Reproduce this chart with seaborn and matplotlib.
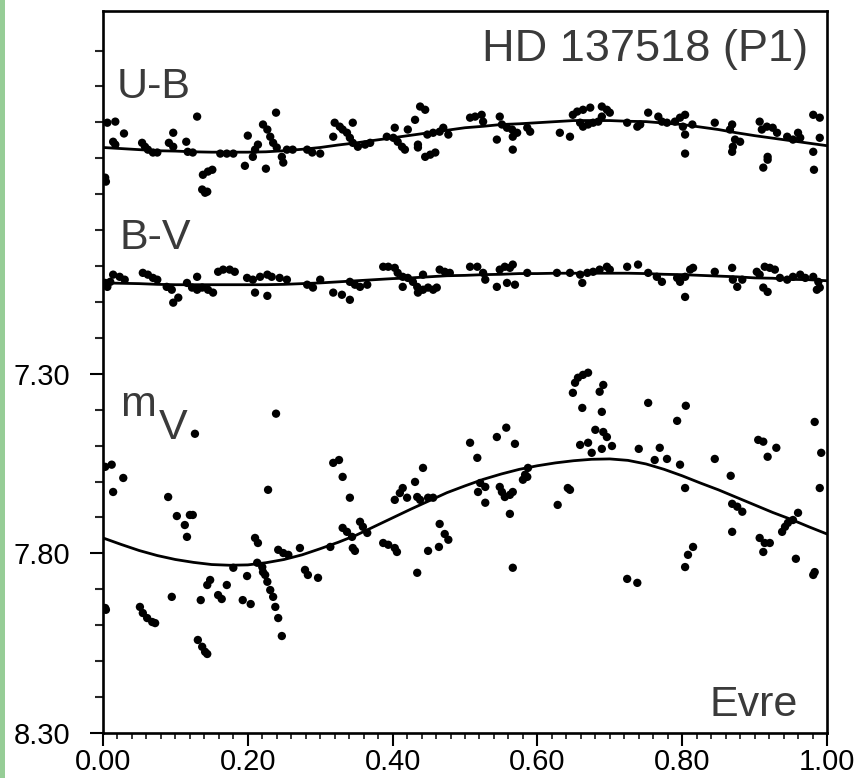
import numpy as np
import pandas as pd
import matplotlib
matplotlib.use("Agg")
import matplotlib.pyplot as plt
import seaborn as sns
from matplotlib.ticker import FixedLocator, MultipleLocator
from matplotlib.patches import Rectangle

# ---------------- data (phase, plotted magnitude) ----------------
ub_phase = [0.006,0.017,0.014,0.017,0.029,0.054,0.058,0.062,0.069,0.075,0.097,0.091,0.097,0.115,0.130,0.117,0.124,0.138,0.145,0.151,0.137,0.141,0.144,0.162,0.171,0.180,0.200,0.196,0.207,0.210,0.214,0.221,0.227,0.231,0.235,0.240,0.247,0.249,0.239,0.225,0.254,0.262,0.003,0.004,
            0.282,0.289,0.300,0.318,0.320,0.327,0.331,0.337,0.341,0.345,0.352,0.362,0.345,0.369,0.392,0.401,0.407,0.413,0.417,0.403,0.421,0.431,0.438,0.445,0.435,0.435,0.445,0.452,0.459,0.448,0.456,0.465,0.470,0.477,0.507,0.514,0.523,0.525,0.544,0.548,0.551,0.558,0.565,0.566,0.572,0.566,0.586,0.590,
            0.631,0.645,0.649,0.655,0.663,0.673,0.659,0.663,0.670,0.677,0.684,0.689,0.689,0.696,0.700,0.724,0.738,0.742,0.753,0.767,0.772,0.779,0.790,0.797,0.804,0.801,0.804,0.804,0.814,0.845,0.869,0.866,0.873,0.870,0.869,0.880,0.907,0.910,0.917,0.925,0.931,0.912,0.918,0.918,0.945,0.953,0.960,0.963,0.981,0.990,0.981,0.982,0.990]
ub_mag = [6.601,6.598,6.654,6.662,6.631,6.657,6.668,6.676,6.684,6.684,6.629,6.657,6.668,6.654,6.584,6.682,6.684,6.746,6.737,6.732,6.787,6.796,6.793,6.687,6.687,6.687,6.637,6.721,6.696,6.676,6.662,6.606,6.620,6.640,6.657,6.670,6.696,6.712,6.573,6.729,6.676,6.676,6.754,6.765,
          6.676,6.684,6.687,6.640,6.601,6.612,6.620,6.629,6.643,6.657,6.668,6.662,6.601,6.657,6.640,6.643,6.654,6.668,6.676,6.615,6.620,6.593,6.556,6.565,6.662,6.670,6.696,6.690,6.684,6.634,6.629,6.626,6.615,6.634,6.587,6.584,6.579,6.598,6.648,6.584,6.606,6.615,6.620,6.640,6.629,6.676,6.615,6.626,
          6.629,6.640,6.579,6.570,6.565,6.559,6.601,6.612,6.606,6.601,6.598,6.584,6.556,6.565,6.573,6.601,6.612,6.606,6.573,6.584,6.598,6.601,6.598,6.587,6.579,6.612,6.634,6.687,6.606,6.601,6.606,6.620,6.648,6.668,6.682,6.654,6.598,6.620,6.612,6.615,6.629,6.726,6.704,6.696,6.640,6.648,6.629,6.643,6.579,6.587,6.682,6.732,6.643]

bv_phase = [0.003,0.006,0.010,0.014,0.023,0.030,0.055,0.062,0.069,0.075,0.088,0.095,0.097,0.104,0.116,0.123,0.130,0.137,0.145,0.152,0.130,0.159,0.166,0.175,0.182,0.199,0.207,0.217,0.227,0.233,0.244,0.254,0.210,0.227,
            0.282,0.290,0.300,0.318,0.330,0.341,0.348,0.355,0.365,0.341,0.387,0.394,0.403,0.407,0.414,0.421,0.428,0.434,0.435,0.442,0.449,0.456,0.461,0.414,0.442,0.465,0.472,0.479,0.507,0.517,0.525,0.528,0.544,0.558,0.569,0.548,0.555,0.562,0.566,0.586,0.627,
            0.645,0.659,0.662,0.669,0.677,0.686,0.696,0.700,0.724,0.739,0.753,0.765,0.772,0.793,0.797,0.804,0.811,0.815,0.804,0.845,0.869,0.870,0.876,0.883,0.903,0.907,0.914,0.921,0.928,0.935,0.945,0.953,0.963,0.970,0.981,0.988,0.912,0.918,0.986,0.990]
bv_mag = [7.047,7.058,7.044,7.024,7.030,7.038,7.019,7.024,7.033,7.038,7.058,7.066,7.102,7.088,7.047,7.060,7.066,7.060,7.066,7.074,7.030,7.016,7.010,7.010,7.016,7.033,7.038,7.030,7.024,7.030,7.033,7.038,7.074,7.083,
          7.052,7.060,7.038,7.074,7.080,7.044,7.052,7.058,7.052,7.094,7.002,7.002,7.005,7.019,7.030,7.033,7.044,7.058,7.074,7.066,7.060,7.066,7.060,7.058,7.024,7.010,7.016,7.019,7.002,7.002,7.019,7.038,7.058,7.047,7.052,7.010,7.002,7.005,6.996,7.019,7.019,
          7.019,7.024,7.047,7.019,7.016,7.010,7.002,7.010,7.002,6.996,7.019,7.030,7.044,7.033,7.044,7.030,7.010,7.005,7.086,7.016,7.005,7.038,7.058,7.038,7.016,7.024,7.002,7.005,7.010,7.033,7.038,7.030,7.024,7.033,7.030,7.044,7.060,7.072,7.066,7.060]

mv_phase = [0.003,0.012,0.028,0.014,0.090,0.127,0.239,0.228,
            0.102,0.113,0.116,0.120,0.124,0.210,0.214,0.242,0.249,0.256,0.180,0.199,0.213,0.220,0.221,0.224,0.227,0.231,0.235,0.238,0.242,0.247,
            0.003,0.004,0.051,0.055,0.061,0.068,0.072,0.095,0.131,0.137,0.141,0.144,0.135,0.144,0.148,0.159,0.164,0.171,0.193,0.204,
            0.318,0.326,0.331,0.341,0.442,0.431,0.507,0.517,0.544,0.557,0.569,0.403,0.410,0.414,0.420,0.434,0.438,0.449,0.456,0.521,0.528,0.518,0.528,0.548,0.551,0.555,0.562,0.566,0.586,0.580,0.642,0.628,
            0.272,0.279,0.283,0.297,0.314,0.331,0.337,0.344,0.345,0.348,0.355,0.359,0.365,0.387,0.394,0.403,0.406,0.434,0.449,0.465,0.472,0.477,0.464,0.562,0.566,0.583,0.587,
            0.869,0.876,0.883,0.869,0.907,0.914,0.921,0.912,0.938,0.942,0.946,0.953,0.960,0.957,0.981,0.983,0.804,0.808,0.815,0.724,0.738,
            0.649,0.652,0.656,0.663,0.670,0.686,0.691,0.662,0.689,0.680,0.691,0.696,0.659,0.670,0.675,0.689,0.703,0.645,0.740,0.753,0.769,0.762,0.779,0.793,0.805,0.797,0.804,0.845,0.867,0.905,0.912,0.918,0.930,0.983,0.992,0.990]
mv_mag = [7.559,7.553,7.590,7.629,7.643,7.467,7.411,7.623,
          7.696,7.721,7.754,7.693,7.693,7.757,7.771,7.790,7.799,7.804,7.840,7.863,7.826,7.838,7.852,7.860,7.879,7.902,7.921,7.949,7.980,8.030,
          7.952,7.957,7.949,7.966,7.980,7.991,7.994,7.921,8.041,8.060,8.074,8.080,7.930,7.888,7.874,7.916,7.927,7.888,7.930,7.941,
          7.548,7.540,7.587,7.645,7.562,7.601,7.492,7.534,7.476,7.450,7.495,7.651,7.632,7.618,7.645,7.643,7.651,7.645,7.645,7.604,7.615,7.629,7.659,7.615,7.629,7.643,7.637,7.629,7.587,7.595,7.618,7.665,
          7.785,7.846,7.860,7.868,7.782,7.729,7.740,7.754,7.785,7.793,7.712,7.726,7.743,7.771,7.776,7.785,7.796,7.854,7.793,7.718,7.746,7.762,7.782,7.690,7.840,7.581,7.562,
          7.662,7.670,7.684,7.740,7.757,7.771,7.771,7.796,7.740,7.726,7.715,7.707,7.687,7.815,7.860,7.852,7.838,7.804,7.782,7.871,7.882,
          7.353,7.325,7.311,7.303,7.297,7.350,7.331,7.395,7.406,7.456,7.462,7.476,7.498,7.492,7.520,7.509,7.501,7.623,7.509,7.381,7.506,7.540,7.537,7.431,7.389,7.553,7.618,7.537,7.584,7.484,7.489,7.531,7.506,7.434,7.520,7.618]

# fitted curves read at phase steps of 0.025
fit_phase = [0.000,0.025,0.050,0.075,0.100,0.125,0.150,0.175,0.200,0.225,
             0.250,0.275,0.300,0.325,0.350,0.375,0.400,0.425,0.450,0.475,
             0.500,0.525,0.550,0.575,0.600,0.625,0.650,0.675,0.700,0.725,
             0.750,0.775,0.800,0.825,0.850,0.875,0.900,0.925,0.950,0.975,1.000]
ub_fit = [6.670,6.673,6.676,6.679,6.680,6.682,6.683,6.683,6.683,6.682,
          6.679,6.675,6.670,6.663,6.657,6.650,6.643,6.636,6.629,6.622,
          6.615,6.611,6.606,6.604,6.601,6.598,6.595,6.595,6.595,6.597,
          6.598,6.602,6.606,6.613,6.620,6.629,6.637,6.644,6.651,6.658,6.665]
bv_fit = [7.047,7.048,7.049,7.051,7.052,7.052,7.052,7.052,7.052,7.052,
          7.051,7.049,7.047,7.044,7.041,7.038,7.035,7.033,7.030,7.027,
          7.026,7.024,7.023,7.021,7.021,7.020,7.020,7.020,7.020,7.020,
          7.021,7.023,7.024,7.026,7.028,7.030,7.033,7.034,7.037,7.038,7.041]
mv_fit = [7.757,7.775,7.792,7.806,7.817,7.825,7.831,7.833,7.832,7.826,
          7.817,7.804,7.787,7.769,7.749,7.725,7.701,7.677,7.654,7.631,
          7.612,7.594,7.579,7.566,7.556,7.548,7.542,7.538,7.537,7.541,
          7.551,7.566,7.584,7.604,7.623,7.644,7.665,7.686,7.705,7.726,7.746]

x_ticks = [0.0, 0.2, 0.4, 0.6, 0.8, 1.0]
x_ticklabels = ["0.00", "0.20", "0.40", "0.60", "0.80", "1.00"]
y_ticks = [7.30, 7.80, 8.30]
y_ticklabels = ["7.30", "7.80", "8.30"]

# ---------------- figure ----------------
sns.set_theme(style="ticks")
plt.rcParams['font.family'] = ['Liberation Sans', 'DejaVu Sans']

W, H = 856, 778
fig = plt.figure(figsize=(W / 100, H / 100), dpi=100)
fig.patch.set_facecolor('white')
ax = fig.add_axes([103 / W, 45 / H, 724 / W, 722 / H])
ax.set_facecolor('white')

pts = pd.concat([
    pd.DataFrame({'phase': ub_phase, 'mag': ub_mag, 'band': 'U-B'}),
    pd.DataFrame({'phase': bv_phase, 'mag': bv_mag, 'band': 'B-V'}),
    pd.DataFrame({'phase': mv_phase, 'mag': mv_mag, 'band': 'V'}),
], ignore_index=True)
fits = pd.concat([
    pd.DataFrame({'phase': fit_phase, 'mag': ub_fit, 'band': 'U-B'}),
    pd.DataFrame({'phase': fit_phase, 'mag': bv_fit, 'band': 'B-V'}),
    pd.DataFrame({'phase': fit_phase, 'mag': mv_fit, 'band': 'V'}),
], ignore_index=True)
pal = {'U-B': 'black', 'B-V': 'black', 'V': 'black'}

sns.lineplot(data=fits, x='phase', y='mag', hue='band', palette=pal, estimator=None,
             sort=True, linewidth=2.0, legend=False, ax=ax, zorder=2)
sns.scatterplot(data=pts, x='phase', y='mag', hue='band', palette=pal, s=36,
                linewidth=0, legend=False, ax=ax, zorder=3)

ax.set_xlim(0, 1)
ax.set_ylim(8.30, 6.29)
ax.set_xlabel('')
ax.set_ylabel('')

ax.xaxis.set_major_locator(FixedLocator(x_ticks))
ax.set_xticklabels(x_ticklabels)
ax.xaxis.set_minor_locator(MultipleLocator(0.02))
ax.yaxis.set_major_locator(FixedLocator(y_ticks))
ax.set_yticklabels(y_ticklabels)
minor_y = [round(6.4 + 0.1 * i, 2) for i in range(19)]
minor_y = [v for v in minor_y if v not in (7.3, 7.8, 8.3)]
ax.yaxis.set_minor_locator(FixedLocator(minor_y))

ax.tick_params(axis='x', which='major', direction='out', length=9, width=1.5,
               pad=2, labelsize=21, colors='black', top=False)
ax.tick_params(axis='x', which='minor', direction='out', length=4.5, width=1.3, top=False)
ax.tick_params(axis='y', which='major', direction='out', length=9.5, width=1.5,
               pad=14, labelsize=21, colors='black', right=False)
ax.tick_params(axis='y', which='minor', direction='out', length=6, width=1.5, right=False)

for sp in ax.spines.values():
    sp.set_visible(True)
    sp.set_linewidth(1.9)
    sp.set_color('black')

txt_col = '#3a3a3a'
fs = 31
ax.text(0.974, 0.931, 'HD 137518 (P1)', transform=ax.transAxes, ha='right',
        va='baseline', fontsize=32.5, color=txt_col)
ax.text(0.019, 0.879, 'U-B', transform=ax.transAxes, ha='left', va='baseline',
        fontsize=fs, color=txt_col)
ax.text(0.023, 0.671, 'B-V', transform=ax.transAxes, ha='left', va='baseline',
        fontsize=fs, color=txt_col)
ax.text(0.024, 0.4397, 'm', transform=ax.transAxes, ha='left', va='baseline',
        fontsize=fs, color=txt_col)
ax.text(0.077, 0.4078, 'V', transform=ax.transAxes, ha='left', va='baseline',
        fontsize=fs, color=txt_col)
ax.text(0.960, 0.0236, 'Evre', transform=ax.transAxes, ha='right', va='baseline',
        fontsize=fs, color=txt_col)

# light green strip at the left edge of the image
fig.add_artist(Rectangle((0, 0), 5 / W, 1, transform=fig.transFigure,
                         facecolor='#96cd96', edgecolor='none', zorder=0))

fig.savefig('out.png', dpi=100)
